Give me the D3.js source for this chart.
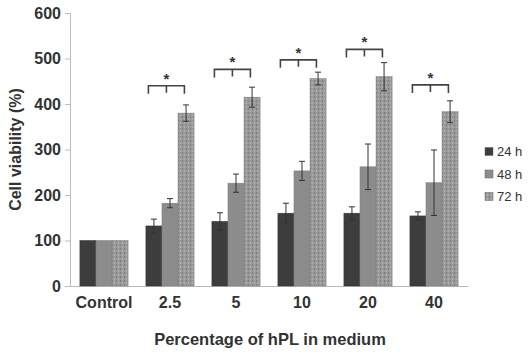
<!DOCTYPE html>
<html>
<head>
<meta charset="utf-8">
<script src="https://cdn.jsdelivr.net/npm/d3@7"></script>
<style>
  body { margin: 0; background: #fff; }
  svg { display: block; font-family: Arial, "Liberation Sans", sans-serif; }
</style>
</head>
<body>
<div id="chart"></div>
<script>
const groups = ["Control", "2.5", "5", "10", "20", "40"];
const series = ["24 h", "48 h", "72 h"];
const means24 = [100, 132, 142, 160, 160, 154];
const errs24  = [0, 15, 19, 22, 14, 9];
const means48 = [100, 182, 226, 253, 262, 227];
const errs48  = [0, 10, 20, 21, 50, 72];
const means72 = [100, 380, 415, 456, 460, 383];
const errs72  = [0, 18, 22, 14, 31, 24];
// significance brackets (value at bracket top)
const sigLevel = [null, 440, 476, 497, 520, 442];
const yTicks = [0, 100, 200, 300, 400, 500, 600];

const width = 531, height = 355;
const margin = {top: 13, right: 63, bottom: 69, left: 70};

const svg = d3.select("#chart").append("svg")
    .attr("width", width)
    .attr("height", height);

const defs = svg.append("defs");
const pat = defs.append("pattern")
    .attr("id", "hatch")
    .attr("patternUnits", "userSpaceOnUse")
    .attr("width", 4).attr("height", 4);
pat.append("rect").attr("width", 4).attr("height", 4).attr("fill", "#9a9a9a");
pat.append("rect").attr("x", 0).attr("y", 0).attr("width", 1).attr("height", 2).attr("fill", "#7c7c7c");
pat.append("rect").attr("x", 2).attr("y", 2).attr("width", 1).attr("height", 2).attr("fill", "#b0b0b0");

const colors = ["#3d3d3d", "#8c8c8c", "url(#hatch)"];

const x0 = d3.scaleBand()
    .domain(groups)
    .range([margin.left, width - margin.right])
    .paddingInner(0.27)
    .paddingOuter(0.15);

const x1 = d3.scaleBand()
    .domain(series)
    .range([0, x0.bandwidth()]);

const y = d3.scaleLinear()
    .domain([0, 600])
    .range([height - margin.bottom, margin.top]);

const data = groups.map((g, i) => ({
  group: g,
  vals: [
    {s: series[0], v: means24[i], e: errs24[i]},
    {s: series[1], v: means48[i], e: errs48[i]},
    {s: series[2], v: means72[i], e: errs72[i]}
  ]
}));

// axes
const yAxis = svg.append("g")
    .attr("transform", `translate(${margin.left},0)`)
    .call(d3.axisLeft(y).tickValues(yTicks).tickSize(5).tickPadding(4));
yAxis.selectAll("path, line").attr("stroke", "#bcbcbc");
yAxis.selectAll("text")
    .style("font-size", "16px").style("font-weight", "bold").attr("fill", "#333");

const xAxis = svg.append("g")
    .attr("transform", `translate(0,${height - margin.bottom})`)
    .call(d3.axisBottom(x0).tickSize(0).tickPadding(11).tickSizeOuter(0));
xAxis.select("path").attr("stroke", "#bcbcbc");
xAxis.selectAll("text")
    .style("font-size", "16px").style("font-weight", "bold").attr("fill", "#333");

// bars
const g = svg.append("g")
  .selectAll("g")
  .data(data)
  .join("g")
    .attr("transform", d => `translate(${x0(d.group)},0)`);

g.selectAll("rect")
  .data(d => d.vals)
  .join("rect")
    .attr("x", d => x1(d.s))
    .attr("y", d => y(d.v))
    .attr("width", x1.bandwidth())
    .attr("height", d => y(0) - y(d.v))
    .attr("fill", (d, i) => colors[i])
    .attr("stroke", (d, i) => i === 0 ? "#333" : "#808080")
    .attr("stroke-width", 0.5);

// error bars
const eb = g.selectAll("g.err")
  .data(d => d.vals.filter(v => v.e > 0))
  .join("g")
    .attr("class", "err")
    .attr("stroke", "#333")
    .attr("stroke-width", 1);
eb.append("line")
    .attr("x1", d => x1(d.s) + x1.bandwidth() / 2)
    .attr("x2", d => x1(d.s) + x1.bandwidth() / 2)
    .attr("y1", d => y(d.v - d.e))
    .attr("y2", d => y(d.v + d.e));
eb.append("line")
    .attr("x1", d => x1(d.s) + x1.bandwidth() / 2 - 3)
    .attr("x2", d => x1(d.s) + x1.bandwidth() / 2 + 3)
    .attr("y1", d => y(d.v + d.e))
    .attr("y2", d => y(d.v + d.e));
eb.append("line")
    .attr("x1", d => x1(d.s) + x1.bandwidth() / 2 - 3)
    .attr("x2", d => x1(d.s) + x1.bandwidth() / 2 + 3)
    .attr("y1", d => y(d.v - d.e))
    .attr("y2", d => y(d.v - d.e));

// significance brackets
const sig = svg.append("g")
  .selectAll("g")
  .data(groups.map((gr, i) => ({group: gr, lvl: sigLevel[i]})).filter(d => d.lvl !== null))
  .join("g")
    .attr("transform", d => `translate(${x0(d.group)},${y(d.lvl)})`);
sig.append("path")
    .attr("d", "M2.5,8V0H38.5V8M20.5,0V7")
    .attr("fill", "none")
    .attr("stroke", "#444")
    .attr("stroke-width", 1.6);
sig.append("text")
    .attr("x", 20.5)
    .attr("y", -2)
    .attr("text-anchor", "middle")
    .style("font-size", "15px")
    .style("font-weight", "bold")
    .attr("fill", "#333")
    .text("*");

// axis titles
svg.append("text")
    .attr("transform", `translate(21,${(y(0) + y(600)) / 2}) rotate(-90)`)
    .attr("text-anchor", "middle")
    .style("font-size", "16px")
    .style("font-weight", "bold")
    .attr("fill", "#333")
    .text("Cell viability (%)");

svg.append("text")
    .attr("x", 270)
    .attr("y", 345)
    .attr("text-anchor", "middle")
    .style("font-size", "16.5px")
    .style("font-weight", "bold")
    .attr("fill", "#333")
    .text("Percentage of hPL in medium");

// legend
const leg = svg.append("g")
  .selectAll("g")
  .data(series)
  .join("g")
    .attr("transform", (d, i) => `translate(485,${151 + i * 22.5})`);
leg.append("rect")
    .attr("y", -3.5)
    .attr("width", 8).attr("height", 8)
    .attr("fill", (d, i) => colors[i])
    .attr("stroke", "#666").attr("stroke-width", 0.5);
leg.append("text")
    .attr("x", 12)
    .attr("y", 5)
    .style("font-size", "13px")
    .attr("fill", "#333")
    .text(d => d);
</script>
</body>
</html>
